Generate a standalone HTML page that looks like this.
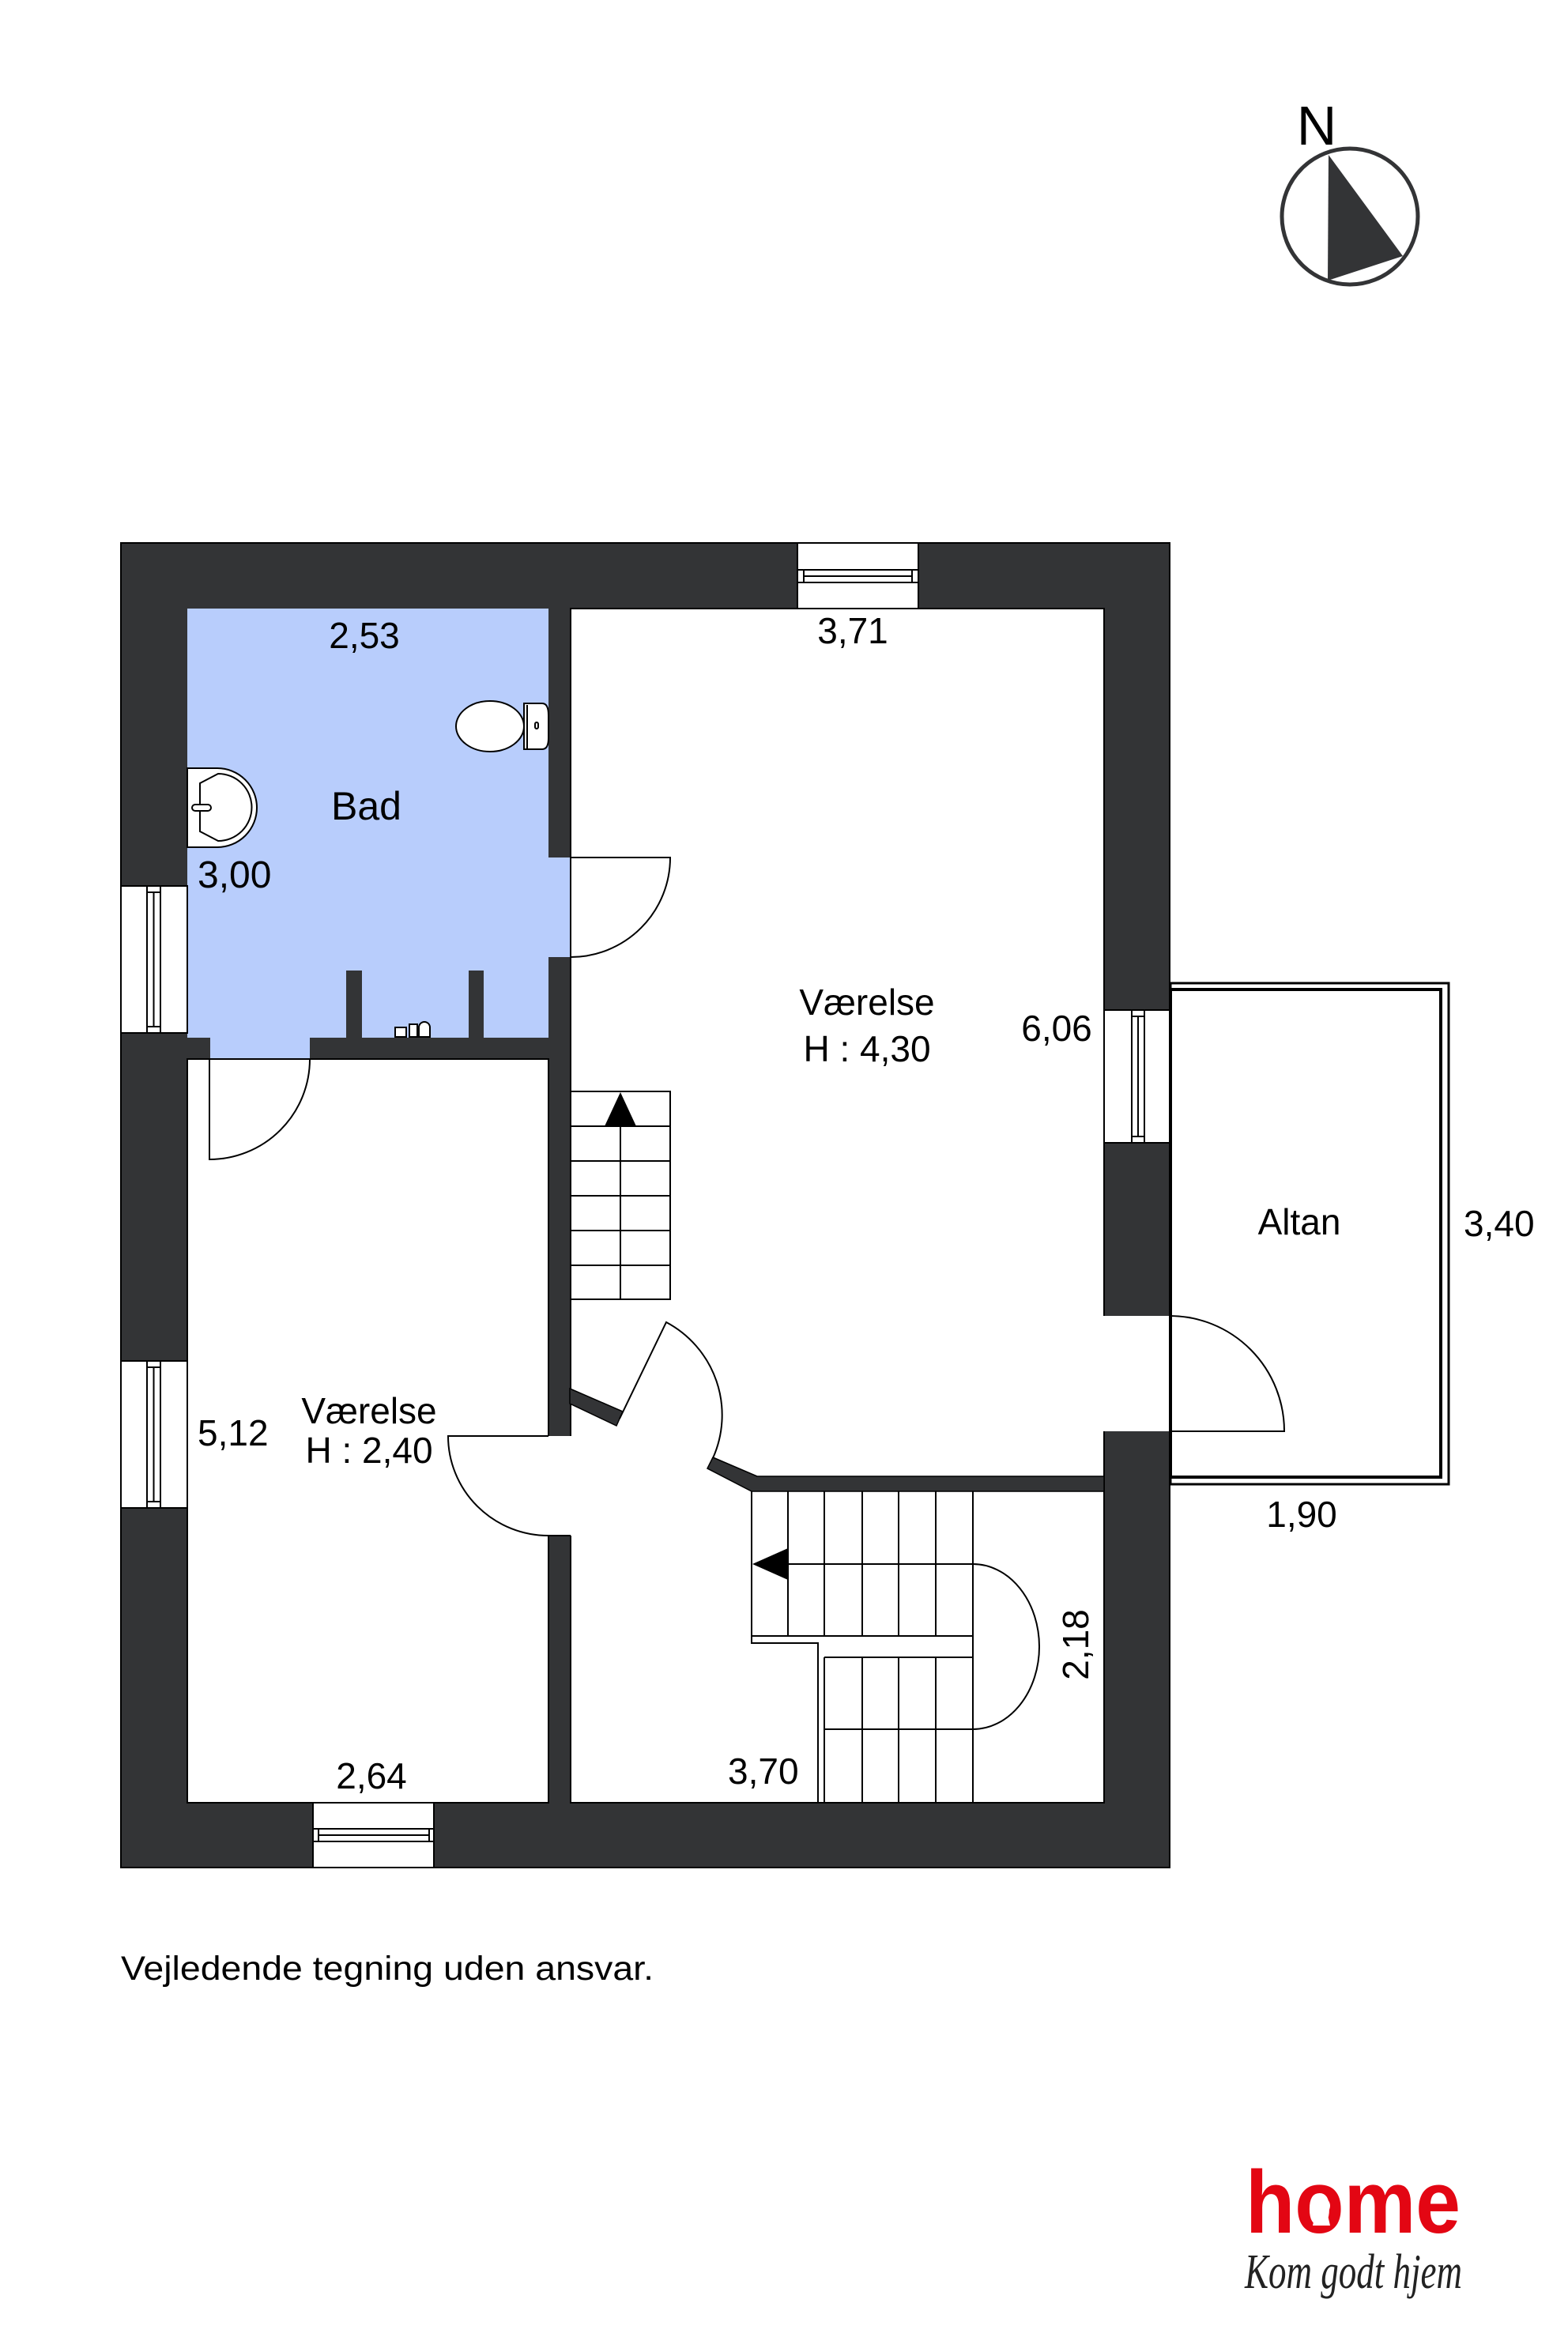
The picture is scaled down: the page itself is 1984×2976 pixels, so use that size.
<!DOCTYPE html>
<html><head><meta charset="utf-8"><style>html,body{margin:0;padding:0;background:#fff}svg{display:block}</style></head>
<body>
<svg width="1984" height="2976" viewBox="0 0 1984 2976" xmlns="http://www.w3.org/2000/svg" font-family="Liberation Sans, sans-serif">
<rect width="1984" height="2976" fill="#fff"/>
<rect x="153" y="687" width="1327" height="1676" fill="#333436" stroke="#000" stroke-width="2"/>
<g fill="#b8cdfc">
<rect x="237" y="770" width="457" height="543"/>
<rect x="692" y="1085" width="31" height="126"/>
<rect x="266" y="1311" width="126" height="30"/>
</g>
<g fill="#333436">
<rect x="438" y="1228" width="20" height="86"/>
<rect x="593" y="1228" width="19" height="86"/>
</g>
<g fill="#fff" stroke="#000" stroke-width="2">
<rect x="237" y="1340" width="457" height="941"/>
<rect x="722" y="770" width="675" height="1511"/>
</g>
<rect x="692" y="1817" width="32" height="126" fill="#fff"/>
<rect x="1395" y="1665" width="86" height="146" fill="#fff"/>
<line x1="1480" y1="1665" x2="1480" y2="1811" stroke="#000" stroke-width="2"/>
<line x1="722" y1="1085" x2="722" y2="1211" stroke="#000" stroke-width="1.5"/>
<polygon points="902,1844 958,1868 1397,1868 1397,1887 951,1887 895,1858" fill="#333436" stroke="#000" stroke-width="1.5"/>
<polygon points="721,1757 788,1786 780,1804 721,1776" fill="#333436" stroke="#000" stroke-width="1.5"/>
<g stroke="#000" stroke-width="2" fill="#fff">
<rect x="153" y="1121" width="84" height="186"/>
<rect x="186" y="1121" width="17" height="186"/><line x1="194.5" y1="1129" x2="194.5" y2="1299"/><line x1="186" y1="1129" x2="203" y2="1129"/><line x1="186" y1="1299" x2="203" y2="1299"/>
<rect x="153" y="1722" width="84" height="186"/>
<rect x="186" y="1722" width="17" height="186"/><line x1="194.5" y1="1730" x2="194.5" y2="1900"/><line x1="186" y1="1730" x2="203" y2="1730"/><line x1="186" y1="1900" x2="203" y2="1900"/>
<rect x="1397" y="1278" width="83" height="168"/>
<rect x="1432" y="1278" width="16" height="168"/><line x1="1440" y1="1286" x2="1440" y2="1438"/><line x1="1432" y1="1286" x2="1448" y2="1286"/><line x1="1432" y1="1438" x2="1448" y2="1438"/>
<rect x="1009" y="687" width="153" height="83"/>
<rect x="1009" y="721" width="153" height="16"/><line x1="1017" y1="729" x2="1154" y2="729"/><line x1="1017" y1="721" x2="1017" y2="737"/><line x1="1154" y1="721" x2="1154" y2="737"/>
<rect x="396" y="2281" width="153" height="82"/>
<rect x="396" y="2314" width="153" height="16"/><line x1="403" y1="2322" x2="543" y2="2322"/><line x1="403" y1="2314" x2="403" y2="2330"/><line x1="543" y1="2314" x2="543" y2="2330"/>
</g>
<g fill="none" stroke="#000" stroke-width="2">
<path d="M722,1085 L848,1085 A126,126 0 0 1 722,1211"/>
<path d="M265,1340 L265,1467 A127,127 0 0 0 392,1340"/>
<path d="M694,1817 L567,1817 A127,126 0 0 0 694,1943 L722,1943"/>
<path d="M784,1795 L843,1673 A133,133 0 0 1 902,1845"/>
<path d="M1480,1811 L1625,1811 A145,146 0 0 0 1480,1665"/>
</g>
<g fill="none" stroke="#000" stroke-width="2">
<rect x="722" y="1381" width="126" height="263"/>
<line x1="722" y1="1425" x2="848" y2="1425"/><line x1="722" y1="1469" x2="848" y2="1469"/><line x1="722" y1="1513" x2="848" y2="1513"/><line x1="722" y1="1557" x2="848" y2="1557"/><line x1="722" y1="1601" x2="848" y2="1601"/>
<line x1="785" y1="1425" x2="785" y2="1644"/>
</g>
<polygon points="785,1382 765,1425 805,1425" fill="#000"/>
<g fill="none" stroke="#000" stroke-width="2">
<path d="M951,1887 L951,2079 L1035,2079 L1035,2281"/>
<line x1="1043" y1="2097" x2="1043" y2="2281"/>
<line x1="951" y1="2070" x2="1231" y2="2070"/>
<line x1="1043" y1="2097" x2="1231" y2="2097"/>
<line x1="997" y1="1979" x2="1231" y2="1979"/>
<line x1="1043" y1="2188" x2="1231" y2="2188"/>
<line x1="997" y1="1887" x2="997" y2="2070"/>
<line x1="1043" y1="1887" x2="1043" y2="2070"/>
<line x1="1091" y1="1887" x2="1091" y2="2070"/><line x1="1091" y1="2097" x2="1091" y2="2281"/>
<line x1="1137" y1="1887" x2="1137" y2="2070"/><line x1="1137" y1="2097" x2="1137" y2="2281"/>
<line x1="1184" y1="1887" x2="1184" y2="2070"/><line x1="1184" y1="2097" x2="1184" y2="2281"/>
<line x1="1231" y1="1887" x2="1231" y2="2281"/>
<path d="M1231,1979 A84,104.5 0 0 1 1231,2188"/>
</g>
<polygon points="952,1979 997,1959 997,1999" fill="#000"/>
<rect x="1481" y="1244" width="352" height="634" fill="none" stroke="#000" stroke-width="3"/>
<rect x="1481" y="1252" width="342" height="617" fill="none" stroke="#000" stroke-width="4"/>
<g stroke="#000" stroke-width="2" fill="#fff">
<path d="M663,890 L686,890 Q694,890 694,905 L694,934 Q694,948 686,948 L663,948 Z"/>
<ellipse cx="620" cy="919" rx="43" ry="32"/>
<line x1="667" y1="892" x2="667" y2="947"/>
<rect x="677" y="914" width="4" height="8" rx="2"/>
<path d="M237,972 L275,972 A50,50 0 0 1 275,1072 L237,1072 Z"/>
<path d="M253,991 L276,979 A42,42 0 0 1 276,1064 L253,1052 Z"/>
<rect x="243" y="1018" width="24" height="8" rx="4"/>
<rect x="500" y="1300" width="14" height="12"/><rect x="518" y="1296" width="10" height="16"/><path d="M530,1312 L530,1300 A7,7 0 0 1 544,1300 L544,1312 Z"/>
</g>
<g fill="#000" font-size="46">
<text x="461" y="820" text-anchor="middle">2,53</text>
<text x="1079" y="814" text-anchor="middle">3,71</text>
<text x="419" y="1037" font-size="50">Bad</text>
<text x="250" y="1123" font-size="48">3,00</text>
<text x="1097" y="1284" text-anchor="middle">Værelse</text>
<text x="1097" y="1343" text-anchor="middle">H : 4,30</text>
<text x="1337" y="1317" text-anchor="middle">6,06</text>
<text x="467" y="1801" text-anchor="middle">Værelse</text>
<text x="467" y="1851" text-anchor="middle">H : 2,40</text>
<text x="250" y="1829">5,12</text>
<text x="470" y="2263" text-anchor="middle">2,64</text>
<text x="921" y="2257">3,70</text>
<text transform="translate(1377,2081) rotate(-90)" text-anchor="middle">2,18</text>
<text x="1644" y="1562" text-anchor="middle">Altan</text>
<text x="1852" y="1564">3,40</text>
<text x="1647" y="1932" text-anchor="middle">1,90</text>
<text x="153" y="2505" font-size="43" textLength="674" lengthAdjust="spacingAndGlyphs">Vejledende tegning uden ansvar.</text>
</g>
<text x="1666" y="183" font-size="70" text-anchor="middle" fill="#000">N</text>
<circle cx="1708" cy="274" r="86" fill="none" stroke="#333436" stroke-width="5"/>
<polygon points="1681,196 1775,324 1680,355" fill="#333436"/>
<text x="1576" y="2825" font-size="112" font-weight="bold" fill="#e30613" textLength="272" lengthAdjust="spacingAndGlyphs">home</text>
<circle cx="1672" cy="2791" r="11" fill="#fff"/>
<polygon points="1666,2794 1678,2794 1683,2816 1661,2816" fill="#fff"/>
<text x="1575" y="2895" font-size="62" font-style="italic" font-family="Liberation Serif, serif" fill="#222" textLength="275" lengthAdjust="spacingAndGlyphs">Kom godt hjem</text>
</svg>
</body></html>
